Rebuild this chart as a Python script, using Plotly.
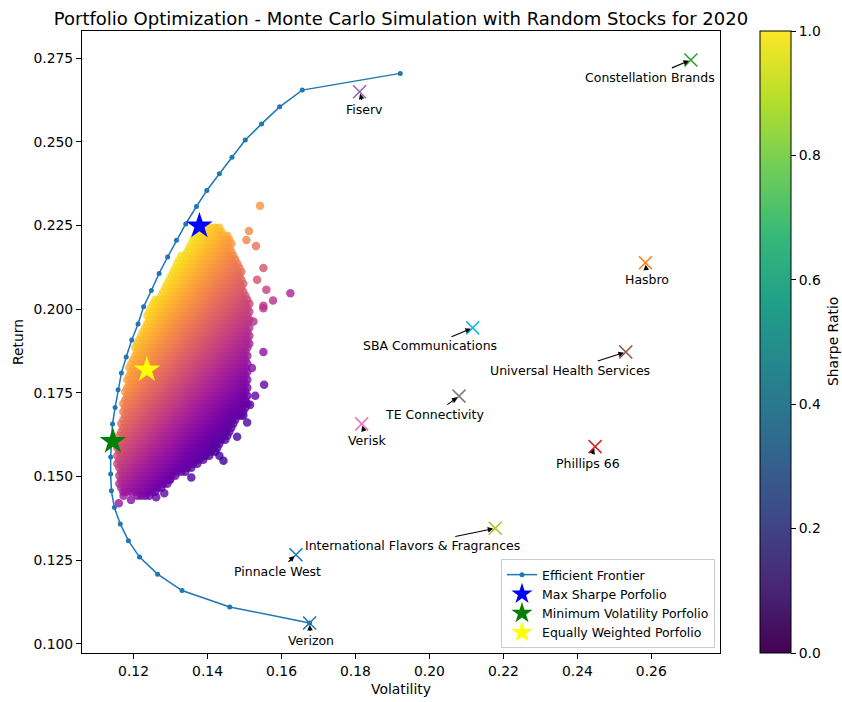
import numpy as np
import plotly.graph_objects as go

# ---- efficient frontier (volatility, return) ----
frontier_vol = [0.1676, 0.1460, 0.1331, 0.1265, 0.1216, 0.1186, 0.1164, 0.1148, 0.1140,
                0.1138, 0.1138, 0.1140, 0.1143, 0.1150, 0.1158, 0.1167, 0.1180, 0.1195,
                0.1212, 0.1227, 0.1248, 0.1269, 0.1292, 0.1316, 0.1341, 0.1370, 0.1398,
                0.1432, 0.1466, 0.1502, 0.1546, 0.1595, 0.1656, 0.1921]
frontier_ret = [0.1062, 0.1110, 0.1159, 0.1208, 0.1259, 0.1308, 0.1358, 0.1407, 0.1457,
                0.1507, 0.1558, 0.1607, 0.1657, 0.1706, 0.1759, 0.1809, 0.1857, 0.1908,
                0.1956, 0.2007, 0.2056, 0.2107, 0.2156, 0.2206, 0.2255, 0.2307, 0.2355,
                0.2405, 0.2454, 0.2506, 0.2554, 0.2605, 0.2655, 0.2705]

# ---- individual stocks ----
stock_names = ["Pinnacle West", "Hasbro", "Constellation Brands", "Phillips 66", "Fiserv",
               "Universal Health Services", "Verisk", "TE Connectivity",
               "International Flavors & Fragrances", "SBA Communications", "Verizon"]
stock_vol = [0.1639, 0.2584, 0.2707, 0.2448, 0.1811, 0.2531, 0.1817, 0.2080, 0.2178, 0.2117, 0.1676]
stock_ret = [0.1266, 0.2139, 0.2745, 0.1589, 0.2650, 0.1872, 0.1657, 0.1740, 0.1345, 0.1944, 0.1062]
stock_colors = ["#1f77b4", "#ff7f0e", "#2ca02c", "#d62728", "#9467bd", "#8c564b",
                "#e377c2", "#7f7f7f", "#bcbd22", "#17becf", "#1f77b4"]
# label centre offsets from each marker, in pixels (dx right, dy down)
label_dx = [-18, 2, -41, -7, 5, -56, 5, -25, -83, -43, 1]
label_dy = [17, 17, 17, 17, 18, 18, 17, 18, 17, 18, 18]

# ---- highlighted portfolios ----
special_names = ["Max Sharpe Porfolio", "Minimum Volatility Porfolio", "Equally Weighted Porfolio"]
special_vol = [0.1378, 0.1144, 0.1236]
special_ret = [0.2249, 0.1605, 0.1819]
special_colors = ["blue", "green", "yellow"]

# ---- simulated portfolios: outline of the dense patch ----
cloud_outline_vol = [0.1418, 0.1432, 0.1456, 0.1472, 0.1486, 0.1496, 0.1502, 0.1513, 0.1515,
                     0.1513, 0.1513, 0.1510, 0.1509, 0.1513, 0.1509, 0.1491, 0.1472, 0.1461,
                     0.1437, 0.1410, 0.1361, 0.1307, 0.1280, 0.1245, 0.1205, 0.1170, 0.1160,
                     0.1157, 0.1156, 0.1156, 0.1161, 0.1167, 0.1175, 0.1180, 0.1187, 0.1202,
                     0.1222, 0.1237, 0.1253, 0.1275, 0.1291, 0.1315, 0.1340, 0.1364, 0.1399]
cloud_outline_ret = [0.2255, 0.2249, 0.2217, 0.2177, 0.2138, 0.2098, 0.2058, 0.2019, 0.1980,
                     0.1938, 0.1879, 0.1819, 0.1780, 0.1738, 0.1708, 0.1678, 0.1660, 0.1631,
                     0.1589, 0.1559, 0.1529, 0.1490, 0.1460, 0.1442, 0.1442, 0.1448, 0.1460,
                     0.1490, 0.1529, 0.1589, 0.1631, 0.1678, 0.1738, 0.1780, 0.1819, 0.1879,
                     0.1938, 0.1980, 0.2019, 0.2058, 0.2098, 0.2138, 0.2177, 0.2217, 0.2249]
# isolated portfolios lying outside the dense patch
stray_vol = [0.1542, 0.1512, 0.1531, 0.1505, 0.1551, 0.1534, 0.1559, 0.1624, 0.1577, 0.1551,
             0.1551, 0.1524, 0.1551, 0.1520, 0.1553, 0.1529, 0.1515, 0.1497, 0.1507, 0.1466,
             0.1480, 0.1432, 0.1443, 0.1415, 0.1356, 0.1299, 0.1283, 0.1261, 0.1193, 0.1160, 0.1173]
stray_ret = [0.2309, 0.2234, 0.2189, 0.2207, 0.2123, 0.2088, 0.2058, 0.2048, 0.2026, 0.2010,
             0.2003, 0.1963, 0.1872, 0.1824, 0.1774, 0.1741, 0.1714, 0.1682, 0.1661, 0.1679,
             0.1619, 0.1562, 0.1547, 0.1585, 0.1497, 0.1490, 0.1450, 0.1438, 0.1430, 0.1420, 0.1442]

X_RANGE = [0.10605, 0.27857]
Y_RANGE = [0.09722, 0.28317]
W, H = 842, 702
M_L, M_R, M_T, M_B = 82, 122, 31, 49
PLOT_W = W - M_L - M_R
PLOT_H = H - M_T - M_B


def inside(px, py, vx, vy):
    """Ray-casting point-in-polygon test."""
    vx = np.asarray(vx); vy = np.asarray(vy)
    res = np.zeros(px.shape, dtype=bool)
    j = len(vx) - 1
    for i in range(len(vx)):
        cond = ((vy[i] > py) != (vy[j] > py)) & \
               (px < (vx[j] - vx[i]) * (py - vy[i]) / (vy[j] - vy[i] + 1e-15) + vx[i])
        res ^= cond
        j = i
    return res


# fill the patch with overlapping markers (roughly 4 px apart)
dvx = 4 * (X_RANGE[1] - X_RANGE[0]) / PLOT_W
dvy = 4 * (Y_RANGE[1] - Y_RANGE[0]) / PLOT_H
rows = np.arange(min(cloud_outline_ret), max(cloud_outline_ret) + dvy, dvy)
cols = np.arange(min(cloud_outline_vol) - dvx, max(cloud_outline_vol) + dvx, dvx)
gx, gy = np.meshgrid(cols, rows)
gx = gx + (np.arange(len(rows))[:, None] % 2) * dvx / 2
gx, gy = gx.ravel(), gy.ravel()
mask = inside(gx, gy, cloud_outline_vol, cloud_outline_ret)
port_vol = np.concatenate([gx[mask], stray_vol])
port_ret = np.concatenate([gy[mask], stray_ret])
port_sharpe = port_ret / port_vol

FONT = "DejaVu Sans"
fig = go.Figure()

fig.add_trace(go.Scatter(
    x=port_vol, y=port_ret, mode="markers", showlegend=False, hoverinfo="skip",
    marker=dict(size=8.5, color=port_sharpe, colorscale="Plasma", cmin=1.02, cmax=1.66,
                opacity=0.8, line=dict(width=0)),
))

fig.add_trace(go.Scatter(
    x=frontier_vol, y=frontier_ret, mode="lines+markers", name="Efficient Frontier",
    line=dict(color="#1f77b4", width=1.5), marker=dict(size=5, color="#1f77b4"),
))

for name, v, r, c in zip(special_names, special_vol, special_ret, special_colors):
    fig.add_trace(go.Scatter(
        x=[v], y=[r], mode="markers", name=name,
        marker=dict(symbol="star", size=20, color=c, line=dict(width=0)),
    ))

for name, v, r, c in zip(stock_names, stock_vol, stock_ret, stock_colors):
    fig.add_trace(go.Scatter(
        x=[v], y=[r], mode="markers", showlegend=False, name=name,
        marker=dict(symbol="x-thin", size=13, line=dict(width=1.6, color=c)),
    ))

# stock labels, each with a short arrow running from the top of the label to its marker
LABEL_HALF_H = 8.5
for name, v, r, dx, dy in zip(stock_names, stock_vol, stock_ret, label_dx, label_dy):
    fig.add_annotation(
        x=v, y=r, text=name, showarrow=False, xshift=dx, yshift=-dy,
        font=dict(family=FONT, size=12.5, color="black"),
    )
    k = (dy - LABEL_HALF_H) / dy
    fig.add_annotation(
        x=v, y=r, text="", showarrow=True, ax=dx * k, ay=dy * k,
        arrowhead=2, arrowsize=1, arrowwidth=1.1, arrowcolor="black", standoff=2,
    )

# separate colour bar on the right
fig.add_trace(go.Scatter(
    x=[None], y=[None], mode="markers", showlegend=False, hoverinfo="skip",
    marker=dict(color=[0, 1], colorscale="Viridis", cmin=0, cmax=1, showscale=True,
                colorbar=dict(
                    x=(760 - M_L) / PLOT_W, xanchor="left", xpad=0, ypad=0,
                    y=0.5, yanchor="middle", len=1, lenmode="fraction",
                    thickness=31, thicknessmode="pixels",
                    outlinewidth=1, outlinecolor="black",
                    ticks="outside", ticklen=5, tickwidth=1, tickcolor="black",
                    tickvals=[0, 0.2, 0.4, 0.6, 0.8, 1.0], tickformat=".1f",
                    tickfont=dict(family=FONT, size=13.9, color="black"),
                )),
))
fig.add_annotation(
    text="Sharpe Ratio", xref="paper", yref="paper",
    x=(833 - M_L) / PLOT_W, y=0.5, xanchor="center", yanchor="middle",
    textangle=-90, showarrow=False,
    font=dict(family=FONT, size=13.9, color="black"),
)

axis_common = dict(
    showline=True, mirror=True, linecolor="black", linewidth=1,
    ticks="outside", ticklen=5, tickwidth=1, tickcolor="black",
    showgrid=False, zeroline=False,
    tickfont=dict(family=FONT, size=13.9, color="black"),
)
fig.update_xaxes(range=X_RANGE, tickvals=[0.12, 0.14, 0.16, 0.18, 0.20, 0.22, 0.24, 0.26],
                 tickformat=".2f",
                 title=dict(text="Volatility", standoff=6,
                            font=dict(family=FONT, size=13.9, color="black")),
                 **axis_common)
fig.update_yaxes(range=Y_RANGE,
                 tickvals=[0.100, 0.125, 0.150, 0.175, 0.200, 0.225, 0.250, 0.275],
                 tickformat=".3f",
                 title=dict(text="Return", standoff=6,
                            font=dict(family=FONT, size=13.9, color="black")),
                 **axis_common)

fig.update_layout(
    width=W, height=H,
    margin=dict(l=M_L, r=M_R, t=M_T, b=M_B, autoexpand=False),
    paper_bgcolor="white", plot_bgcolor="white",
    font=dict(family=FONT, color="black"),
    title=dict(text="Portfolio Optimization - Monte Carlo Simulation with Random Stocks for 2020",
               x=(M_L + PLOT_W / 2) / W, xanchor="center", y=1 - 19 / H, yanchor="middle",
               font=dict(family=FONT, size=18, color="black")),
    legend=dict(x=(715 - M_L) / PLOT_W, xanchor="right", y=(653 - 648) / PLOT_H, yanchor="bottom",
                bgcolor="rgba(255,255,255,0.8)", bordercolor="#cccccc", borderwidth=1,
                font=dict(family=FONT, size=12.5, color="black"), itemwidth=30,
                tracegroupgap=0),
)

fig.write_html("out.html")
